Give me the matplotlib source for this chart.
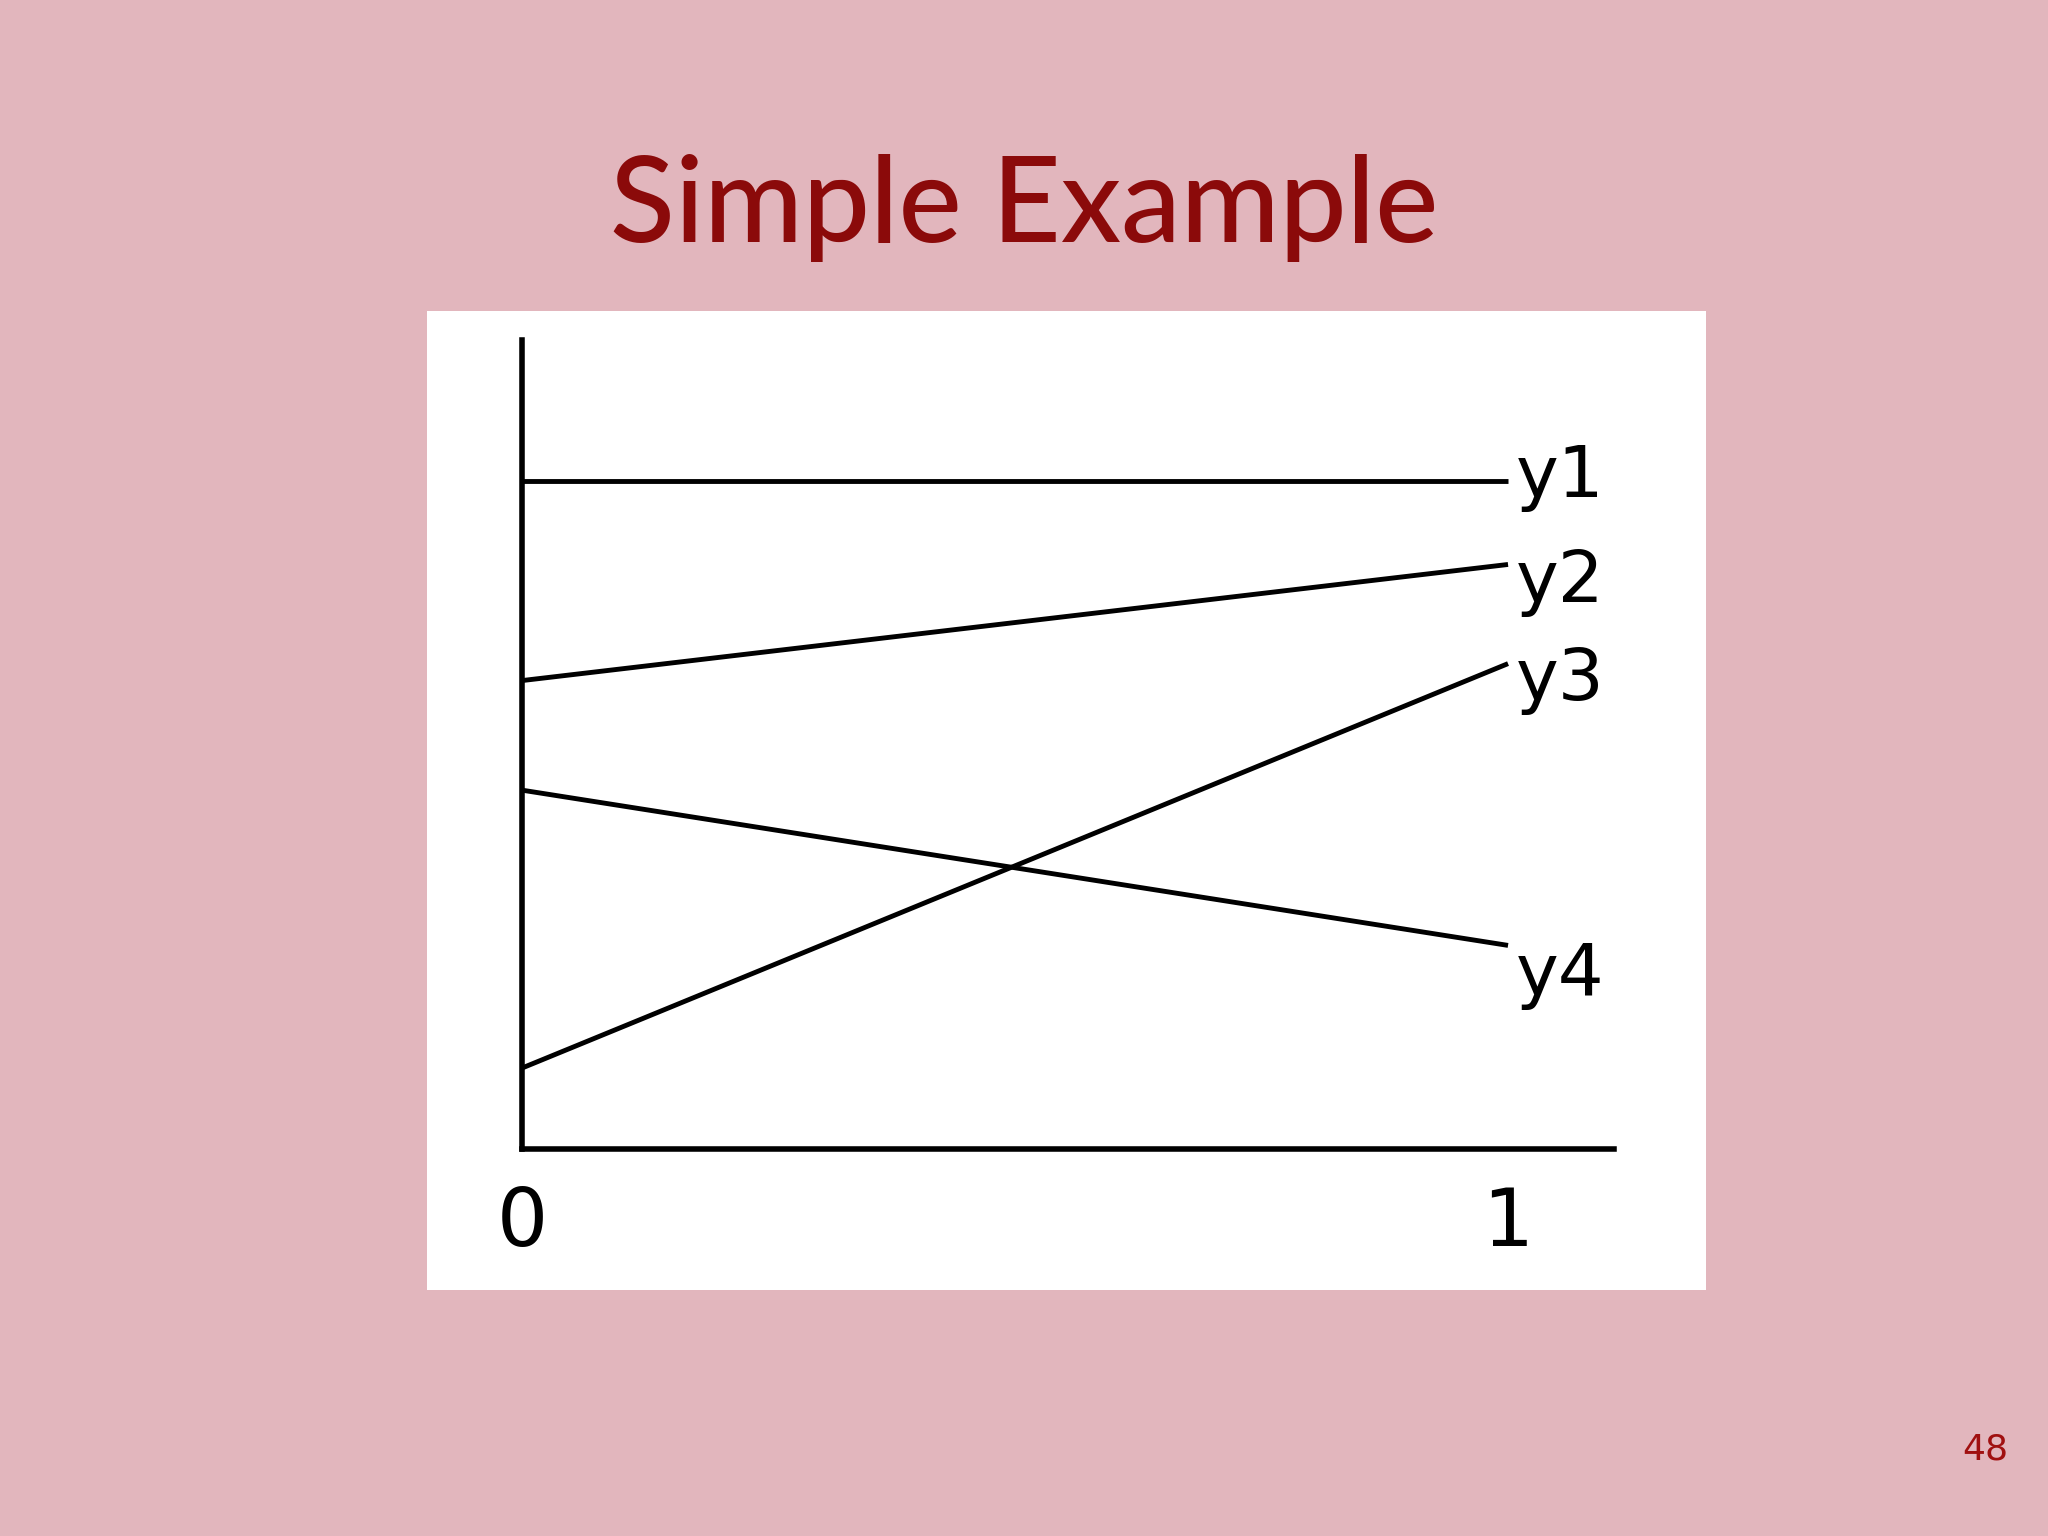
import matplotlib.pyplot as plt
from matplotlib.patches import Rectangle

# line values at x=0 and x=1
x_vals = [0, 1]
y1 = [5.12, 5.12]
y2 = [3.59, 4.48]
y3 = [0.62, 3.72]
y4 = [2.75, 1.56]
series = [y1, y2, y3, y4]
names = ["y1", "y2", "y3", "y4"]
# how far each end label sits from its line end
label_shift = [0.03, -0.14, -0.13, -0.23]
x_ticks = [0, 1]
x_tick_labels = ["0", "1"]

fig = plt.figure(figsize=(20.48, 15.36), dpi=100)
fig.patch.set_facecolor("#e2b6bd")

# white panel behind the chart
fig.patches.append(Rectangle((427 / 2048, 1 - 1290 / 1536), 1279 / 2048, 979 / 1536,
                             transform=fig.transFigure, facecolor="white",
                             edgecolor="none", zorder=-10))

fig.text(0.5, 1 - 242 / 1536, "Simple Example", ha="center", va="baseline",
         fontsize=86, color="#8b0a0a", family="Lato", weight="medium")
fig.text(1985 / 2048, 1 - 1450 / 1536, "48", ha="center", va="center",
         fontsize=26, color="#a01010")

ax = fig.add_axes([0.2549, 0.2520, 0.5332, 0.5266])
ax.set_facecolor("none")
for s in ["top", "right"]:
    ax.spines[s].set_visible(False)
ax.spines["left"].set_linewidth(4)
ax.spines["bottom"].set_linewidth(4)

for ys, name, dy in zip(series, names, label_shift):
    ax.plot(x_vals, ys, color="black", linewidth=3.5, solid_capstyle="butt")
    ax.text(1.008, ys[1] + dy, name, fontsize=52, ha="left", va="center",
            color="black", family="DejaVu Sans")

ax.set_xlim(0, 1.1075)
ax.set_ylim(0, 6.2)
ax.set_xticks(x_ticks)
ax.set_xticklabels(x_tick_labels, fontsize=58)
ax.tick_params(axis="x", length=0, pad=26)
ax.set_yticks([])

plt.savefig("out.png", dpi=100, facecolor=fig.get_facecolor())
